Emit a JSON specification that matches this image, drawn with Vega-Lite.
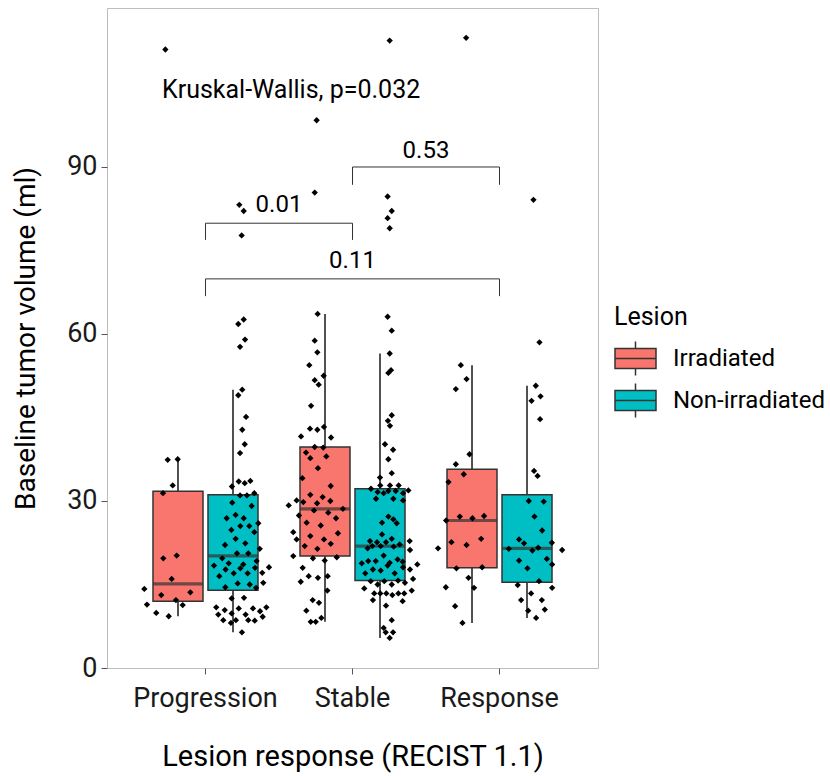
{
  "$schema": "https://vega.github.io/schema/vega-lite/v6.json",
  "width": 491,
  "height": 660,
  "autosize": "none",
  "padding": {"left": 107, "top": 8, "right": 232, "bottom": 108},
  "background": "white",
  "datasets": {
    "pts": [
      {"r":"Progression","g":"Irradiated","v":37.4,"j":-0.257},
      {"r":"Progression","g":"Irradiated","v":37.5,"j":-0.189},
      {"r":"Progression","g":"Irradiated","v":32.8,"j":-0.223},
      {"r":"Progression","g":"Irradiated","v":31.4,"j":-0.289},
      {"r":"Progression","g":"Irradiated","v":19.7,"j":-0.287},
      {"r":"Progression","g":"Irradiated","v":20.2,"j":-0.196},
      {"r":"Progression","g":"Irradiated","v":16.0,"j":-0.230},
      {"r":"Progression","g":"Irradiated","v":14.2,"j":-0.416},
      {"r":"Progression","g":"Irradiated","v":13.6,"j":-0.103},
      {"r":"Progression","g":"Irradiated","v":13.1,"j":-0.301},
      {"r":"Progression","g":"Irradiated","v":12.2,"j":-0.201},
      {"r":"Progression","g":"Irradiated","v":11.4,"j":-0.398},
      {"r":"Progression","g":"Irradiated","v":11.3,"j":-0.155},
      {"r":"Progression","g":"Irradiated","v":9.9,"j":-0.335},
      {"r":"Progression","g":"Irradiated","v":9.3,"j":-0.250},
      {"r":"Progression","g":"Irradiated","v":111.1,"j":-0.273},
      {"r":"Progression","g":"Non-irradiated","v":61.8,"j":0.223},
      {"r":"Progression","g":"Non-irradiated","v":62.6,"j":0.260},
      {"r":"Progression","g":"Non-irradiated","v":59.0,"j":0.269},
      {"r":"Progression","g":"Non-irradiated","v":57.7,"j":0.235},
      {"r":"Progression","g":"Non-irradiated","v":50.0,"j":0.250},
      {"r":"Progression","g":"Non-irradiated","v":49.0,"j":0.223},
      {"r":"Progression","g":"Non-irradiated","v":45.1,"j":0.276},
      {"r":"Progression","g":"Non-irradiated","v":42.8,"j":0.250},
      {"r":"Progression","g":"Non-irradiated","v":40.2,"j":0.267},
      {"r":"Progression","g":"Non-irradiated","v":38.6,"j":0.235},
      {"r":"Progression","g":"Non-irradiated","v":32.6,"j":0.180},
      {"r":"Progression","g":"Non-irradiated","v":33.5,"j":0.226},
      {"r":"Progression","g":"Non-irradiated","v":33.2,"j":0.267},
      {"r":"Progression","g":"Non-irradiated","v":33.6,"j":0.305},
      {"r":"Progression","g":"Non-irradiated","v":31.0,"j":0.235},
      {"r":"Progression","g":"Non-irradiated","v":31.0,"j":0.282},
      {"r":"Progression","g":"Non-irradiated","v":31.4,"j":0.332},
      {"r":"Progression","g":"Non-irradiated","v":29.7,"j":0.182},
      {"r":"Progression","g":"Non-irradiated","v":29.1,"j":0.314},
      {"r":"Progression","g":"Non-irradiated","v":26.9,"j":0.144},
      {"r":"Progression","g":"Non-irradiated","v":27.5,"j":0.205},
      {"r":"Progression","g":"Non-irradiated","v":26.9,"j":0.260},
      {"r":"Progression","g":"Non-irradiated","v":24.8,"j":0.176},
      {"r":"Progression","g":"Non-irradiated","v":25.5,"j":0.237},
      {"r":"Progression","g":"Non-irradiated","v":25.5,"j":0.298},
      {"r":"Progression","g":"Non-irradiated","v":26.0,"j":0.359},
      {"r":"Progression","g":"Non-irradiated","v":24.4,"j":0.332},
      {"r":"Progression","g":"Non-irradiated","v":23.2,"j":0.205},
      {"r":"Progression","g":"Non-irradiated","v":22.1,"j":0.133},
      {"r":"Progression","g":"Non-irradiated","v":22.4,"j":0.271},
      {"r":"Progression","g":"Non-irradiated","v":21.4,"j":0.369},
      {"r":"Progression","g":"Non-irradiated","v":20.6,"j":0.214},
      {"r":"Progression","g":"Non-irradiated","v":20.6,"j":0.291},
      {"r":"Progression","g":"Non-irradiated","v":19.7,"j":0.114},
      {"r":"Progression","g":"Non-irradiated","v":18.4,"j":0.058},
      {"r":"Progression","g":"Non-irradiated","v":18.8,"j":0.158},
      {"r":"Progression","g":"Non-irradiated","v":18.6,"j":0.257},
      {"r":"Progression","g":"Non-irradiated","v":17.9,"j":0.237},
      {"r":"Progression","g":"Non-irradiated","v":19.2,"j":0.348},
      {"r":"Progression","g":"Non-irradiated","v":18.0,"j":0.337},
      {"r":"Progression","g":"Non-irradiated","v":18.1,"j":0.432},
      {"r":"Progression","g":"Non-irradiated","v":17.7,"j":0.137},
      {"r":"Progression","g":"Non-irradiated","v":17.0,"j":0.192},
      {"r":"Progression","g":"Non-irradiated","v":17.0,"j":0.287},
      {"r":"Progression","g":"Non-irradiated","v":17.1,"j":0.386},
      {"r":"Progression","g":"Non-irradiated","v":16.5,"j":0.094},
      {"r":"Progression","g":"Non-irradiated","v":15.2,"j":0.219},
      {"r":"Progression","g":"Non-irradiated","v":15.0,"j":0.301},
      {"r":"Progression","g":"Non-irradiated","v":15.3,"j":0.393},
      {"r":"Progression","g":"Non-irradiated","v":14.5,"j":0.135},
      {"r":"Progression","g":"Non-irradiated","v":14.4,"j":0.344},
      {"r":"Progression","g":"Non-irradiated","v":12.5,"j":0.178},
      {"r":"Progression","g":"Non-irradiated","v":12.6,"j":0.262},
      {"r":"Progression","g":"Non-irradiated","v":10.9,"j":0.073},
      {"r":"Progression","g":"Non-irradiated","v":10.4,"j":0.131},
      {"r":"Progression","g":"Non-irradiated","v":10.7,"j":0.226},
      {"r":"Progression","g":"Non-irradiated","v":10.7,"j":0.323},
      {"r":"Progression","g":"Non-irradiated","v":10.9,"j":0.414},
      {"r":"Progression","g":"Non-irradiated","v":9.6,"j":0.087},
      {"r":"Progression","g":"Non-irradiated","v":9.8,"j":0.178},
      {"r":"Progression","g":"Non-irradiated","v":9.6,"j":0.273},
      {"r":"Progression","g":"Non-irradiated","v":10.2,"j":0.371},
      {"r":"Progression","g":"Non-irradiated","v":9.2,"j":0.389},
      {"r":"Progression","g":"Non-irradiated","v":8.6,"j":0.121},
      {"r":"Progression","g":"Non-irradiated","v":8.1,"j":0.173},
      {"r":"Progression","g":"Non-irradiated","v":8.6,"j":0.207},
      {"r":"Progression","g":"Non-irradiated","v":8.6,"j":0.291},
      {"r":"Progression","g":"Non-irradiated","v":8.5,"j":0.335},
      {"r":"Progression","g":"Non-irradiated","v":6.4,"j":0.248},
      {"r":"Progression","g":"Non-irradiated","v":83.2,"j":0.230},
      {"r":"Progression","g":"Non-irradiated","v":82.1,"j":0.260},
      {"r":"Progression","g":"Non-irradiated","v":77.7,"j":0.246},
      {"r":"Stable","g":"Irradiated","v":63.6,"j":-0.237},
      {"r":"Stable","g":"Irradiated","v":58.8,"j":-0.257},
      {"r":"Stable","g":"Irradiated","v":56.7,"j":-0.239},
      {"r":"Stable","g":"Irradiated","v":54.4,"j":-0.294},
      {"r":"Stable","g":"Irradiated","v":51.7,"j":-0.257},
      {"r":"Stable","g":"Irradiated","v":52.5,"j":-0.196},
      {"r":"Stable","g":"Irradiated","v":50.9,"j":-0.230},
      {"r":"Stable","g":"Irradiated","v":47.1,"j":-0.282},
      {"r":"Stable","g":"Irradiated","v":43.0,"j":-0.289},
      {"r":"Stable","g":"Irradiated","v":42.8,"j":-0.239},
      {"r":"Stable","g":"Irradiated","v":43.3,"j":-0.194},
      {"r":"Stable","g":"Irradiated","v":41.6,"j":-0.350},
      {"r":"Stable","g":"Irradiated","v":41.4,"j":-0.146},
      {"r":"Stable","g":"Irradiated","v":39.7,"j":-0.257},
      {"r":"Stable","g":"Irradiated","v":39.6,"j":-0.199},
      {"r":"Stable","g":"Irradiated","v":38.7,"j":-0.316},
      {"r":"Stable","g":"Irradiated","v":37.7,"j":-0.287},
      {"r":"Stable","g":"Irradiated","v":38.0,"j":-0.178},
      {"r":"Stable","g":"Irradiated","v":35.9,"j":-0.235},
      {"r":"Stable","g":"Irradiated","v":34.1,"j":-0.341},
      {"r":"Stable","g":"Irradiated","v":32.7,"j":-0.148},
      {"r":"Stable","g":"Irradiated","v":31.1,"j":-0.287},
      {"r":"Stable","g":"Irradiated","v":30.7,"j":-0.203},
      {"r":"Stable","g":"Irradiated","v":30.1,"j":-0.380},
      {"r":"Stable","g":"Irradiated","v":29.8,"j":-0.335},
      {"r":"Stable","g":"Irradiated","v":30.0,"j":-0.151},
      {"r":"Stable","g":"Irradiated","v":29.6,"j":-0.241},
      {"r":"Stable","g":"Irradiated","v":29.2,"j":-0.434},
      {"r":"Stable","g":"Irradiated","v":28.6,"j":-0.065},
      {"r":"Stable","g":"Irradiated","v":28.3,"j":-0.262},
      {"r":"Stable","g":"Irradiated","v":27.9,"j":-0.165},
      {"r":"Stable","g":"Irradiated","v":27.4,"j":-0.364},
      {"r":"Stable","g":"Irradiated","v":26.9,"j":-0.112},
      {"r":"Stable","g":"Irradiated","v":26.1,"j":-0.312},
      {"r":"Stable","g":"Irradiated","v":25.6,"j":-0.216},
      {"r":"Stable","g":"Irradiated","v":24.4,"j":-0.403},
      {"r":"Stable","g":"Irradiated","v":23.7,"j":-0.287},
      {"r":"Stable","g":"Irradiated","v":24.2,"j":-0.099},
      {"r":"Stable","g":"Irradiated","v":23.1,"j":-0.380},
      {"r":"Stable","g":"Irradiated","v":23.1,"j":-0.194},
      {"r":"Stable","g":"Irradiated","v":22.3,"j":-0.148},
      {"r":"Stable","g":"Irradiated","v":21.9,"j":-0.325},
      {"r":"Stable","g":"Irradiated","v":21.4,"j":-0.239},
      {"r":"Stable","g":"Irradiated","v":20.1,"j":-0.403},
      {"r":"Stable","g":"Irradiated","v":19.7,"j":-0.269},
      {"r":"Stable","g":"Irradiated","v":19.3,"j":-0.189},
      {"r":"Stable","g":"Irradiated","v":19.9,"j":-0.107},
      {"r":"Stable","g":"Irradiated","v":18.0,"j":-0.339},
      {"r":"Stable","g":"Irradiated","v":16.5,"j":-0.298},
      {"r":"Stable","g":"Irradiated","v":16.2,"j":-0.235},
      {"r":"Stable","g":"Irradiated","v":16.5,"j":-0.169},
      {"r":"Stable","g":"Irradiated","v":15.5,"j":-0.352},
      {"r":"Stable","g":"Irradiated","v":13.9,"j":-0.171},
      {"r":"Stable","g":"Irradiated","v":12.2,"j":-0.271},
      {"r":"Stable","g":"Irradiated","v":11.7,"j":-0.228},
      {"r":"Stable","g":"Irradiated","v":10.3,"j":-0.314},
      {"r":"Stable","g":"Irradiated","v":8.3,"j":-0.284},
      {"r":"Stable","g":"Irradiated","v":8.3,"j":-0.250},
      {"r":"Stable","g":"Irradiated","v":9.0,"j":-0.212},
      {"r":"Stable","g":"Irradiated","v":98.4,"j":-0.244},
      {"r":"Stable","g":"Irradiated","v":85.4,"j":-0.257},
      {"r":"Stable","g":"Non-irradiated","v":63.1,"j":0.239},
      {"r":"Stable","g":"Non-irradiated","v":60.6,"j":0.267},
      {"r":"Stable","g":"Non-irradiated","v":56.5,"j":0.253},
      {"r":"Stable","g":"Non-irradiated","v":53.5,"j":0.262},
      {"r":"Stable","g":"Non-irradiated","v":53.0,"j":0.244},
      {"r":"Stable","g":"Non-irradiated","v":45.4,"j":0.267},
      {"r":"Stable","g":"Non-irradiated","v":44.4,"j":0.241},
      {"r":"Stable","g":"Non-irradiated","v":43.5,"j":0.255},
      {"r":"Stable","g":"Non-irradiated","v":40.2,"j":0.221},
      {"r":"Stable","g":"Non-irradiated","v":39.2,"j":0.276},
      {"r":"Stable","g":"Non-irradiated","v":37.5,"j":0.244},
      {"r":"Stable","g":"Non-irradiated","v":35.0,"j":0.267},
      {"r":"Stable","g":"Non-irradiated","v":34.2,"j":0.187},
      {"r":"Stable","g":"Non-irradiated","v":32.2,"j":0.126},
      {"r":"Stable","g":"Non-irradiated","v":32.8,"j":0.189},
      {"r":"Stable","g":"Non-irradiated","v":32.8,"j":0.255},
      {"r":"Stable","g":"Non-irradiated","v":32.8,"j":0.314},
      {"r":"Stable","g":"Non-irradiated","v":31.6,"j":0.171},
      {"r":"Stable","g":"Non-irradiated","v":31.4,"j":0.212},
      {"r":"Stable","g":"Non-irradiated","v":31.8,"j":0.244},
      {"r":"Stable","g":"Non-irradiated","v":31.8,"j":0.294},
      {"r":"Stable","g":"Non-irradiated","v":31.4,"j":0.344},
      {"r":"Stable","g":"Non-irradiated","v":31.9,"j":0.380},
      {"r":"Stable","g":"Non-irradiated","v":30.4,"j":0.160},
      {"r":"Stable","g":"Non-irradiated","v":30.4,"j":0.278},
      {"r":"Stable","g":"Non-irradiated","v":30.1,"j":0.344},
      {"r":"Stable","g":"Non-irradiated","v":27.2,"j":0.244},
      {"r":"Stable","g":"Non-irradiated","v":26.7,"j":0.278},
      {"r":"Stable","g":"Non-irradiated","v":26.1,"j":0.201},
      {"r":"Stable","g":"Non-irradiated","v":26.0,"j":0.301},
      {"r":"Stable","g":"Non-irradiated","v":24.0,"j":0.201},
      {"r":"Stable","g":"Non-irradiated","v":23.2,"j":0.267},
      {"r":"Stable","g":"Non-irradiated","v":22.8,"j":0.119},
      {"r":"Stable","g":"Non-irradiated","v":22.6,"j":0.167},
      {"r":"Stable","g":"Non-irradiated","v":22.6,"j":0.228},
      {"r":"Stable","g":"Non-irradiated","v":22.8,"j":0.389},
      {"r":"Stable","g":"Non-irradiated","v":21.5,"j":0.103},
      {"r":"Stable","g":"Non-irradiated","v":21.9,"j":0.135},
      {"r":"Stable","g":"Non-irradiated","v":21.9,"j":0.192},
      {"r":"Stable","g":"Non-irradiated","v":21.8,"j":0.280},
      {"r":"Stable","g":"Non-irradiated","v":22.2,"j":0.321},
      {"r":"Stable","g":"Non-irradiated","v":21.2,"j":0.391},
      {"r":"Stable","g":"Non-irradiated","v":20.2,"j":0.212},
      {"r":"Stable","g":"Non-irradiated","v":18.8,"j":0.063},
      {"r":"Stable","g":"Non-irradiated","v":19.2,"j":0.107},
      {"r":"Stable","g":"Non-irradiated","v":19.2,"j":0.158},
      {"r":"Stable","g":"Non-irradiated","v":18.9,"j":0.253},
      {"r":"Stable","g":"Non-irradiated","v":19.5,"j":0.307},
      {"r":"Stable","g":"Non-irradiated","v":19.1,"j":0.341},
      {"r":"Stable","g":"Non-irradiated","v":18.6,"j":0.441},
      {"r":"Stable","g":"Non-irradiated","v":17.0,"j":0.087},
      {"r":"Stable","g":"Non-irradiated","v":17.7,"j":0.139},
      {"r":"Stable","g":"Non-irradiated","v":17.5,"j":0.192},
      {"r":"Stable","g":"Non-irradiated","v":18.4,"j":0.239},
      {"r":"Stable","g":"Non-irradiated","v":17.0,"j":0.287},
      {"r":"Stable","g":"Non-irradiated","v":18.1,"j":0.344},
      {"r":"Stable","g":"Non-irradiated","v":17.7,"j":0.391},
      {"r":"Stable","g":"Non-irradiated","v":16.0,"j":0.412},
      {"r":"Stable","g":"Non-irradiated","v":15.6,"j":0.124},
      {"r":"Stable","g":"Non-irradiated","v":15.0,"j":0.171},
      {"r":"Stable","g":"Non-irradiated","v":15.6,"j":0.216},
      {"r":"Stable","g":"Non-irradiated","v":15.0,"j":0.267},
      {"r":"Stable","g":"Non-irradiated","v":15.7,"j":0.310},
      {"r":"Stable","g":"Non-irradiated","v":15.3,"j":0.357},
      {"r":"Stable","g":"Non-irradiated","v":14.3,"j":0.080},
      {"r":"Stable","g":"Non-irradiated","v":13.4,"j":0.148},
      {"r":"Stable","g":"Non-irradiated","v":13.4,"j":0.189},
      {"r":"Stable","g":"Non-irradiated","v":13.4,"j":0.230},
      {"r":"Stable","g":"Non-irradiated","v":13.1,"j":0.271},
      {"r":"Stable","g":"Non-irradiated","v":13.4,"j":0.312},
      {"r":"Stable","g":"Non-irradiated","v":13.4,"j":0.352},
      {"r":"Stable","g":"Non-irradiated","v":13.9,"j":0.403},
      {"r":"Stable","g":"Non-irradiated","v":12.2,"j":0.139},
      {"r":"Stable","g":"Non-irradiated","v":12.0,"j":0.341},
      {"r":"Stable","g":"Non-irradiated","v":11.2,"j":0.228},
      {"r":"Stable","g":"Non-irradiated","v":8.6,"j":0.267},
      {"r":"Stable","g":"Non-irradiated","v":7.2,"j":0.212},
      {"r":"Stable","g":"Non-irradiated","v":6.4,"j":0.226},
      {"r":"Stable","g":"Non-irradiated","v":6.4,"j":0.276},
      {"r":"Stable","g":"Non-irradiated","v":5.4,"j":0.253},
      {"r":"Stable","g":"Non-irradiated","v":112.7,"j":0.253},
      {"r":"Stable","g":"Non-irradiated","v":84.7,"j":0.239},
      {"r":"Stable","g":"Non-irradiated","v":82.1,"j":0.267},
      {"r":"Stable","g":"Non-irradiated","v":80.8,"j":0.239},
      {"r":"Stable","g":"Non-irradiated","v":79.0,"j":0.253},
      {"r":"Response","g":"Irradiated","v":54.4,"j":-0.263},
      {"r":"Response","g":"Irradiated","v":51.9,"j":-0.224},
      {"r":"Response","g":"Irradiated","v":50.1,"j":-0.297},
      {"r":"Response","g":"Irradiated","v":38.4,"j":-0.204},
      {"r":"Response","g":"Irradiated","v":36.6,"j":-0.297},
      {"r":"Response","g":"Irradiated","v":34.8,"j":-0.243},
      {"r":"Response","g":"Irradiated","v":33.4,"j":-0.347},
      {"r":"Response","g":"Irradiated","v":27.2,"j":-0.270},
      {"r":"Response","g":"Irradiated","v":26.9,"j":-0.184},
      {"r":"Response","g":"Irradiated","v":27.3,"j":-0.105},
      {"r":"Response","g":"Irradiated","v":26.5,"j":-0.363},
      {"r":"Response","g":"Irradiated","v":21.5,"j":-0.418},
      {"r":"Response","g":"Irradiated","v":22.6,"j":-0.327},
      {"r":"Response","g":"Irradiated","v":22.1,"j":-0.224},
      {"r":"Response","g":"Irradiated","v":23.2,"j":-0.125},
      {"r":"Response","g":"Irradiated","v":17.9,"j":-0.293},
      {"r":"Response","g":"Irradiated","v":18.1,"j":-0.118},
      {"r":"Response","g":"Irradiated","v":16.2,"j":-0.211},
      {"r":"Response","g":"Irradiated","v":14.5,"j":-0.365},
      {"r":"Response","g":"Irradiated","v":14.4,"j":-0.173},
      {"r":"Response","g":"Irradiated","v":11.1,"j":-0.302},
      {"r":"Response","g":"Irradiated","v":8.1,"j":-0.252},
      {"r":"Response","g":"Irradiated","v":113.2,"j":-0.227},
      {"r":"Response","g":"Non-irradiated","v":58.5,"j":0.272},
      {"r":"Response","g":"Non-irradiated","v":50.7,"j":0.247},
      {"r":"Response","g":"Non-irradiated","v":48.8,"j":0.279},
      {"r":"Response","g":"Non-irradiated","v":48.0,"j":0.218},
      {"r":"Response","g":"Non-irradiated","v":44.7,"j":0.276},
      {"r":"Response","g":"Non-irradiated","v":35.4,"j":0.235},
      {"r":"Response","g":"Non-irradiated","v":34.5,"j":0.259},
      {"r":"Response","g":"Non-irradiated","v":30.0,"j":0.199},
      {"r":"Response","g":"Non-irradiated","v":29.9,"j":0.301},
      {"r":"Response","g":"Non-irradiated","v":27.2,"j":0.238},
      {"r":"Response","g":"Non-irradiated","v":24.7,"j":0.290},
      {"r":"Response","g":"Non-irradiated","v":23.1,"j":0.133},
      {"r":"Response","g":"Non-irradiated","v":22.4,"j":0.167},
      {"r":"Response","g":"Non-irradiated","v":22.5,"j":0.356},
      {"r":"Response","g":"Non-irradiated","v":21.4,"j":0.063},
      {"r":"Response","g":"Non-irradiated","v":21.1,"j":0.224},
      {"r":"Response","g":"Non-irradiated","v":21.6,"j":0.263},
      {"r":"Response","g":"Non-irradiated","v":21.2,"j":0.426},
      {"r":"Response","g":"Non-irradiated","v":19.3,"j":0.133},
      {"r":"Response","g":"Non-irradiated","v":19.6,"j":0.322},
      {"r":"Response","g":"Non-irradiated","v":17.9,"j":0.190},
      {"r":"Response","g":"Non-irradiated","v":18.6,"j":0.358},
      {"r":"Response","g":"Non-irradiated","v":15.6,"j":0.269},
      {"r":"Response","g":"Non-irradiated","v":14.9,"j":0.124},
      {"r":"Response","g":"Non-irradiated","v":14.4,"j":0.358},
      {"r":"Response","g":"Non-irradiated","v":13.4,"j":0.215},
      {"r":"Response","g":"Non-irradiated","v":12.2,"j":0.147},
      {"r":"Response","g":"Non-irradiated","v":12.2,"j":0.288},
      {"r":"Response","g":"Non-irradiated","v":10.3,"j":0.195},
      {"r":"Response","g":"Non-irradiated","v":10.5,"j":0.308},
      {"r":"Response","g":"Non-irradiated","v":9.0,"j":0.249},
      {"r":"Response","g":"Non-irradiated","v":84.1,"j":0.231}
    ],
    "bars": [
      {"a":"Progression","b":"Stable","y":79.9},
      {"a":"Stable","b":"Response","y":90.0},
      {"a":"Progression","b":"Response","y":69.9}
    ],
    "tips": [
      {"a":"Progression","y":79.9,"y2":76.9},
      {"a":"Stable","y":79.9,"y2":76.9},
      {"a":"Stable","y":90.0,"y2":86.8},
      {"a":"Response","y":90.0,"y2":86.8},
      {"a":"Progression","y":69.9,"y2":66.8},
      {"a":"Response","y":69.9,"y2":66.8}
    ],
    "labels": [
      {"a":"Progression","j":0.5,"y":81.9,"t":"0.01"},
      {"a":"Stable","j":0.5,"y":91.6,"t":"0.53"},
      {"a":"Stable","j":0.0,"y":71.8,"t":"0.11"}
    ],
    "kw": [
      {"a":"Progression","j":-0.296,"y":102.4,"t":"Kruskal-Wallis, p=0.032"}
    ]
  },
  "layer": [
    {
      "data": {"name": "pts"},
      "mark": {"type": "boxplot", "extent": 1.5, "size": 50, "outliers": false, "ticks": false,
        "box": {"stroke": "#333333", "strokeWidth": 1.5},
        "median": {"color": "#333333", "thickness": 3.2},
        "rule": {"color": "#333333", "strokeWidth": 1.7}},
      "encoding": {
        "x": {"field": "r", "type": "nominal", "sort": ["Progression","Stable","Response"],
          "scale": {"type": "band", "domain": ["Progression","Stable","Response"], "paddingInner": 0, "paddingOuter": 0.17},
          "axis": {"title": "Lesion response (RECIST 1.1)", "labelAngle": 0}},
        "xOffset": {"field": "g", "type": "nominal",
          "scale": {"type": "band", "domain": ["Irradiated","Non-irradiated"], "paddingInner": 0, "paddingOuter": 0.3364}},
        "y": {"field": "v", "type": "quantitative",
          "scale": {"domain": [0, 118.56], "nice": false, "zero": false},
          "axis": {"title": "Baseline tumor volume (ml)", "values": [0, 30, 60, 90]}},
        "color": {"field": "g", "type": "nominal",
          "scale": {"domain": ["Irradiated","Non-irradiated"], "range": ["#F8766D","#00BFC4"]},
          "legend": {"title": "Lesion"}}
      }
    },
    {
      "data": {"name": "pts"},
      "mark": {"type": "point", "shape": "diamond", "filled": true, "color": "black", "size": 40, "opacity": 1},
      "encoding": {
        "x": {"field": "r", "type": "nominal", "scale": {"type": "band", "domain": ["Progression","Stable","Response"], "paddingInner": 0, "paddingOuter": 0.17}},
        "xOffset": {"field": "j", "type": "quantitative", "scale": {"domain": [-0.5, 0.5], "range": [0, 147], "nice": false, "zero": false}},
        "y": {"field": "v", "type": "quantitative", "scale": {"domain": [0, 118.56], "nice": false, "zero": false}}
      }
    },
    {
      "data": {"name": "bars"},
      "mark": {"type": "rule", "color": "#333333", "strokeWidth": 1},
      "encoding": {
        "x": {"field": "a", "type": "nominal", "bandPosition": 0.5, "scale": {"type": "band", "domain": ["Progression","Stable","Response"], "paddingInner": 0, "paddingOuter": 0.17}},
        "x2": {"field": "b", "bandPosition": 0.5},
        "y": {"field": "y", "type": "quantitative", "scale": {"domain": [0, 118.56], "nice": false, "zero": false}}
      }
    },
    {
      "data": {"name": "tips"},
      "mark": {"type": "rule", "color": "#333333", "strokeWidth": 1},
      "encoding": {
        "x": {"field": "a", "type": "nominal", "bandPosition": 0.5, "scale": {"type": "band", "domain": ["Progression","Stable","Response"], "paddingInner": 0, "paddingOuter": 0.17}},
        "y": {"field": "y", "type": "quantitative", "scale": {"domain": [0, 118.56], "nice": false, "zero": false}},
        "y2": {"field": "y2"}
      }
    },
    {
      "data": {"name": "labels"},
      "mark": {"type": "text", "fontSize": 24, "align": "center", "baseline": "alphabetic", "color": "black"},
      "encoding": {
        "x": {"field": "a", "type": "nominal", "scale": {"type": "band", "domain": ["Progression","Stable","Response"], "paddingInner": 0, "paddingOuter": 0.17}},
        "xOffset": {"field": "j", "type": "quantitative", "scale": {"domain": [-0.5, 0.5], "range": [0, 147], "nice": false, "zero": false}},
        "y": {"field": "y", "type": "quantitative", "scale": {"domain": [0, 118.56], "nice": false, "zero": false}},
        "text": {"field": "t"}
      }
    },
    {
      "data": {"name": "kw"},
      "mark": {"type": "text", "fontSize": 25, "align": "left", "baseline": "alphabetic", "color": "black"},
      "encoding": {
        "x": {"field": "a", "type": "nominal", "scale": {"type": "band", "domain": ["Progression","Stable","Response"], "paddingInner": 0, "paddingOuter": 0.17}},
        "xOffset": {"field": "j", "type": "quantitative", "scale": {"domain": [-0.5, 0.5], "range": [0, 147], "nice": false, "zero": false}},
        "y": {"field": "y", "type": "quantitative", "scale": {"domain": [0, 118.56], "nice": false, "zero": false}},
        "text": {"field": "t"}
      }
    }
  ],
  "resolve": {"scale": {"xOffset": "independent"}},
  "config": {
    "font": "Roboto",
    "view": {"stroke": "#BDBDBD", "strokeWidth": 1},
    "axis": {
      "domain": false, "grid": false,
      "tickColor": "#555555", "tickSize": 6, "tickWidth": 1,
      "labelFont": "Roboto", "labelFontSize": 27, "labelColor": "#1a1a1a",
      "titleFont": "Roboto", "titleFontSize": 28, "titleFontWeight": "normal", "titleColor": "black"
    },
    "axisY": {"titlePadding": 26, "labelPadding": 4},
    "axisX": {"titlePadding": 31, "labelPadding": 11, "titleFontSize": 29},
    "legend": {
      "orient": "none", "legendX": 507, "legendY": 297,
      "titleFont": "Roboto", "titleFontSize": 25, "titleFontWeight": "normal", "titleColor": "black", "titlePadding": 7,
      "labelFont": "Roboto", "labelFontSize": 24, "labelColor": "black", "labelOffset": 16,
      "symbolType": "M-1,-0.49H1V0.49H-1Z M-1,0H1 M0,-0.83V-0.49 M0,0.49V0.83",
      "symbolSize": 1681, "symbolStrokeColor": "#333333", "symbolStrokeWidth": 1.5, "symbolOpacity": 1,
      "rowPadding": -1
    }
  }
}
